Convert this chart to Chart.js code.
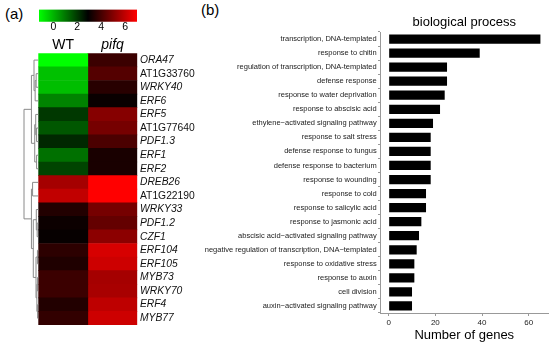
<!DOCTYPE html>
<html>
<head>
<meta charset="utf-8">
<script src="https://cdn.jsdelivr.net/npm/chart.js@4.4.0/dist/chart.umd.min.js"></script>
<style>
html, body { margin: 0; padding: 0; background: #fff; }
#wrap { position: relative; width: 550px; height: 348px; font-family: "Liberation Sans", Arial, sans-serif; }
canvas { position: absolute; }
.lab { position: absolute; font-size: 15px; line-height: 1; color: #000; }
</style>
</head>
<body>
<div id="wrap">
  <div class="lab" style="left:5px;top:6px">(a)</div>
  <div class="lab" style="left:201px;top:2px">(b)</div>
  <canvas id="heat" style="left:0;top:0" width="200" height="348"></canvas>
  <canvas id="cbar" style="left:0;top:0" width="200" height="40"></canvas>
  <canvas id="bars" style="left:200px;top:0" width="350" height="348"></canvas>
</div>
<script>
// heatmap (a)
const genes = ['ORA47', 'AT1G33760', 'WRKY40', 'ERF6', 'ERF5', 'AT1G77640', 'PDF1.3', 'ERF1', 'ERF2',
  'DREB26', 'AT1G22190', 'WRKY33', 'PDF1.2', 'CZF1', 'ERF104', 'ERF105', 'MYB73', 'WRKY70', 'ERF4', 'MYB77']
const conditions = ['WT', 'pifq']
const wtValues = [-1.2, -0.2, -0.15, 0.8, 2.0, 1.5, 2.25, 1.1, 1.8,
  5.55, 6.0, 3.45, 3.1, 3.0, 3.6, 3.4, 3.85, 3.85, 3.45, 3.7]
const pifqValues = [3.85, 4.25, 3.55, 3.05, 5.05, 4.8, 4.1, 3.3, 3.3,
  7.0, 7.0, 4.8, 4.5, 5.15, 6.35, 6.2, 5.55, 5.6, 5.95, 6.2]

// colour key
const colorMin = -1.2
const colorMid = 2.9
const colorMax = 7
const colorTicks = [0, 2, 4, 6]

// row dendrogram, hclust style: negative = leaf (row), positive = earlier merge
const mergeLeft = [-2, 1, -1, -8, -6, -5, 6, 3, -10, -13, -12, -15, -17, -19, 13, 12, 11, 9, 8]
const mergeRight = [-3, -4, 2, -9, -7, 5, 4, 7, -11, -14, 10, -16, -18, -20, 14, 15, 16, 17, 18]
const mergeHeight = [0.15, 0.22, 0.3, 0.12, 0.12, 0.18, 0.25, 0.48, 0.4, 0.08, 0.14, 0.06, 0.05, 0.05, 0.1, 0.16, 0.35, 0.48, 1.0]

// GO bars (b)
const processes = [
  'transcription, DNA-templated',
  'response to chitin',
  'regulation of transcription, DNA-templated',
  'defense response',
  'response to water deprivation',
  'response to abscisic acid',
  'ethylene\u2212activated signaling pathway',
  'response to salt stress',
  'defense response to fungus',
  'defense response to bacterium',
  'response to wounding',
  'response to cold',
  'response to salicylic acid',
  'response to jasmonic acid',
  'abscisic acid\u2212activated signaling pathway',
  'negative regulation of transcription, DNA\u2212templated',
  'response to oxidative stress',
  'response to auxin',
  'cell division',
  'auxin\u2212activated signaling pathway',
]
const geneCounts = [65, 39, 25, 25, 24, 22, 19, 18, 18, 18, 18, 16, 16, 14, 13, 12, 11, 11, 10, 10]
const countTicks = [0, 20, 40, 60]

Chart.defaults.font.family = '"Liberation Sans", Arial, sans-serif'
Chart.defaults.animation = false
Chart.defaults.plugins.legend.display = false
Chart.defaults.plugins.tooltip.enabled = false

function heatColor(v) {
  if (v <= colorMid) {
    const t = Math.min(1, (colorMid - v) / (colorMid - colorMin))
    return 'rgb(0,' + Math.round(255 * t) + ',0)'
  }
  const t = Math.min(1, (v - colorMid) / (colorMax - colorMid))
  return 'rgb(' + Math.round(255 * t) + ',0,0)'
}

const dendro = {
  id: 'dendro',
  afterDraw(chart) {
    const ys = chart.scales.y
    const left = chart.chartArea.left
    const span = left - 24
    const ctx = chart.ctx
    const nodes = []
    const at = (ref) => ref < 0 ? { x: left, y: ys.getPixelForValue(-ref - 1) } : nodes[ref - 1]
    ctx.save()
    ctx.strokeStyle = '#8a8a8a'
    ctx.lineWidth = 1
    ctx.beginPath()
    mergeLeft.forEach((a, i) => {
      const p = at(a)
      const q = at(mergeRight[i])
      const x = left - mergeHeight[i] * span
      ctx.moveTo(p.x, p.y)
      ctx.lineTo(x, p.y)
      ctx.lineTo(x, q.y)
      ctx.lineTo(q.x, q.y)
      nodes.push({ x: x, y: (p.y + q.y) / 2 })
    })
    ctx.stroke()
    ctx.restore()
  }
}

new Chart(document.getElementById('heat'), {
  type: 'bar',
  data: {
    labels: genes,
    datasets: [
      { data: wtValues.map(() => [0, 1]), backgroundColor: wtValues.map(heatColor) },
      { data: pifqValues.map(() => [1, 2]), backgroundColor: pifqValues.map(heatColor) },
    ],
  },
  options: {
    indexAxis: 'y',
    responsive: false,
    layout: { padding: { left: 38.3, right: 0, top: 33.3, bottom: 23 } },
    datasets: { bar: { grouped: false, barPercentage: 1, categoryPercentage: 1, borderWidth: 0 } },
    scales: {
      x: {
        position: 'top', min: 0, max: 2,
        afterBuildTicks: (s) => { s.ticks = [{ value: 0.5 }, { value: 1.5 }] },
        afterFit: (s) => { s.height = 20 },
        grid: { display: false, tickLength: 0 }, border: { display: false },
        ticks: {
          color: '#000', padding: 0, maxRotation: 0,
          callback: (v, i) => conditions[i],
          font: (c) => ({ size: 14, style: c.index === 1 ? 'italic' : 'normal' }),
        },
      },
      y: {
        position: 'right',
        afterFit: (s) => { s.width = 62.7 },
        grid: { display: false, tickLength: 0 }, border: { display: false },
        ticks: {
          color: '#111', padding: 2.7, autoSkip: false,
          font: (c) => ({ size: 10.3, style: /^AT\dG/.test(genes[c.index]) ? 'normal' : 'italic' }),
        },
      },
    },
  },
  plugins: [dendro],
})

new Chart(document.getElementById('cbar'), {
  type: 'bar',
  data: {
    labels: [''],
    datasets: [{
      data: [[colorMin, colorMax]],
      backgroundColor: (c) => {
        const a = c.chart.chartArea
        if (!a) return '#000'
        const g = c.chart.ctx.createLinearGradient(a.left, 0, a.right, 0)
        g.addColorStop(0, heatColor(colorMin))
        g.addColorStop((colorMid - colorMin) / (colorMax - colorMin), heatColor(colorMid))
        g.addColorStop(1, heatColor(colorMax))
        return g
      },
      barPercentage: 1, categoryPercentage: 1, borderWidth: 0,
    }],
  },
  options: {
    indexAxis: 'y',
    responsive: false,
    layout: { padding: { left: 39, right: 63, top: 9.5, bottom: 0 } },
    scales: {
      x: {
        min: colorMin, max: colorMax,
        afterBuildTicks: (s) => { s.ticks = colorTicks.map((v) => ({ value: v })) },
        afterFit: (s) => { s.height = 18.3 },
        grid: { display: false, tickLength: 0 }, border: { display: false },
        ticks: { color: '#000', padding: -0.8, font: { size: 10.5 } },
      },
      y: { display: false },
    },
  },
})

new Chart(document.getElementById('bars'), {
  type: 'bar',
  data: {
    labels: processes,
    datasets: [{ data: geneCounts, backgroundColor: '#000', barPercentage: 0.66, categoryPercentage: 1 }],
  },
  options: {
    indexAxis: 'y',
    responsive: false,
    layout: { padding: { left: 0, right: 2, top: 0, bottom: 0 } },
    plugins: {
      title: {
        display: true, text: 'biological process', fullSize: false, color: '#000',
        font: { size: 13, weight: 'normal' }, padding: { top: 14.5, bottom: 1.9 },
      },
    },
    scales: {
      x: {
        min: -3.5, max: 68.25,
        afterBuildTicks: (s) => { s.ticks = countTicks.map((v) => ({ value: v })) },
        afterFit: (s) => { s.height = 35 },
        grid: { drawOnChartArea: false, tickLength: 3, color: '#999' },
        border: { color: '#999' },
        ticks: { color: '#222', padding: 2.2, font: { size: 8 } },
        title: { display: true, text: 'Number of genes', color: '#000', font: { size: 13 }, padding: { top: 0, bottom: 5.2 } },
      },
      y: {
        afterFit: (s) => { s.width = 180.5 },
        grid: { drawOnChartArea: false, tickLength: 2.5, color: '#999' },
        border: { color: '#999' },
        ticks: { color: '#222', padding: 1.3, autoSkip: false, font: { size: 7.5 } },
      },
    },
  },
})
</script>
</body>
</html>
